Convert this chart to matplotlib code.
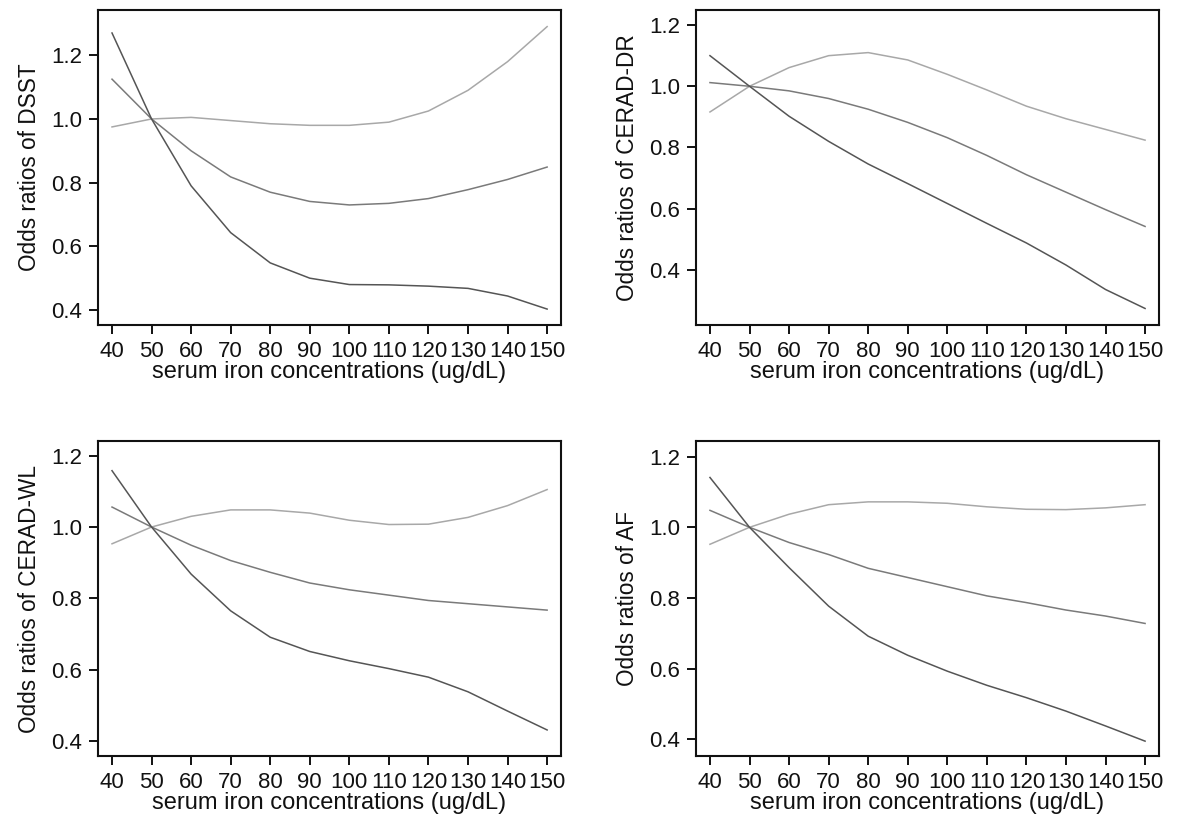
import numpy as np
import matplotlib
matplotlib.use('Agg')
import matplotlib.pyplot as plt

#===============================================================================
# data (serum iron vs odds ratios, 4 outcomes)
#===============================================================================
iron = [40, 50, 60, 70, 80, 90, 100, 110, 120, 130, 140, 150]

dsst_upper = [0.975, 1.0, 1.005, 0.995, 0.985, 0.980, 0.980, 0.990, 1.025, 1.090, 1.180, 1.290]
dsst_or    = [1.125, 1.0, 0.900, 0.818, 0.770, 0.741, 0.730, 0.735, 0.750, 0.778, 0.810, 0.849]
dsst_lower = [1.270, 1.0, 0.790, 0.643, 0.548, 0.500, 0.480, 0.479, 0.475, 0.468, 0.444, 0.403]

dr_upper = [0.916, 1.0, 1.061, 1.100, 1.110, 1.086, 1.039, 0.988, 0.935, 0.894, 0.859, 0.824]
dr_or    = [1.012, 1.0, 0.985, 0.960, 0.925, 0.882, 0.832, 0.774, 0.711, 0.654, 0.597, 0.542]
dr_lower = [1.100, 1.0, 0.902, 0.820, 0.746, 0.682, 0.617, 0.552, 0.488, 0.416, 0.336, 0.274]

wl_upper = [0.953, 1.0, 1.030, 1.048, 1.048, 1.039, 1.019, 1.007, 1.008, 1.027, 1.060, 1.105]
wl_or    = [1.056, 1.0, 0.949, 0.906, 0.873, 0.843, 0.824, 0.809, 0.794, 0.785, 0.776, 0.767]
wl_lower = [1.158, 1.0, 0.868, 0.765, 0.691, 0.651, 0.625, 0.603, 0.579, 0.538, 0.484, 0.431]

af_upper = [0.952, 1.0, 1.037, 1.064, 1.072, 1.072, 1.068, 1.058, 1.051, 1.050, 1.055, 1.064]
af_or    = [1.048, 1.0, 0.957, 0.923, 0.884, 0.858, 0.832, 0.806, 0.787, 0.766, 0.749, 0.728]
af_lower = [1.141, 1.0, 0.886, 0.777, 0.692, 0.638, 0.593, 0.553, 0.518, 0.480, 0.438, 0.395]

xticks = [40, 50, 60, 70, 80, 90, 100, 110, 120, 130, 140, 150]
yticks = [0.4, 0.6, 0.8, 1.0, 1.2]
xlabel = "serum iron concentrations (ug/dL)"
#===============================================================================
plt.rcParams['font.family'] = ['Liberation Sans', 'DejaVu Sans']

fig = plt.figure(figsize=(11.78, 8.18), dpi=100)

panels = [
    # (left, bottom, ylim, name, upper, or, lower)
    (0.0832, 0.6027, (0.353, 1.342), "Odds ratios of DSST",      dsst_upper, dsst_or, dsst_lower),
    (0.5908, 0.6027, (0.220, 1.249), "Odds ratios of CERAD-DR",  dr_upper,   dr_or,   dr_lower),
    (0.0832, 0.0758, (0.358, 1.241), "Odds ratios of CERAD-WL",  wl_upper,   wl_or,   wl_lower),
    (0.5908, 0.0758, (0.353, 1.244), "Odds ratios of AF",        af_upper,   af_or,   af_lower),
]

for left, bottom, ylim, name, up, est, low in panels:
    ax = fig.add_axes([left, bottom, 0.393, 0.385])
    ax.plot(iron, up,  color='#a8a8a8', lw=1.1)
    ax.plot(iron, est, color='#7a7a7a', lw=1.1)
    ax.plot(iron, low, color='#555555', lw=1.1)
    ax.set_xlim(36.46, 153.5)
    ax.set_ylim(*ylim)
    ax.set_xticks(xticks)
    ax.set_yticks(yticks)
    ax.set_yticklabels(["%.1f" % v for v in yticks])
    ax.tick_params(direction='out', length=6.5, width=1.4, pad=5,
                   labelsize=16, colors='#111111')
    for sp in ax.spines.values():
        sp.set_linewidth(1.5)
        sp.set_color('#111111')
    ax.set_xlabel(xlabel, fontsize=17, labelpad=-1, color='#111111')
    ax.set_ylabel(name, fontsize=16.3, labelpad=7, color='#111111')

plt.savefig("out.png", dpi=100)
